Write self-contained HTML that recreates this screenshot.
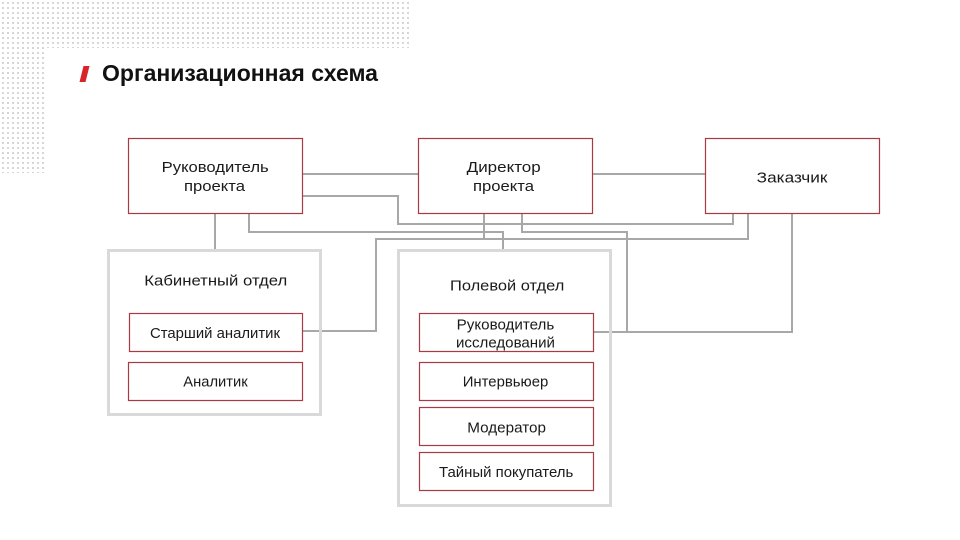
<!DOCTYPE html>
<html><head><meta charset="utf-8"><style>
html,body{margin:0;padding:0;background:#fff;}
svg{display:block;}
text{font-family:"Liberation Sans","Noto Sans CJK SC",sans-serif;fill:#1a1a1a;}
</style></head><body>
<svg width="960" height="540" viewBox="0 0 960 540" xmlns="http://www.w3.org/2000/svg">
<defs>
<pattern id="dots" x="2" y="2" width="5" height="5" patternUnits="userSpaceOnUse">
<rect x="0" y="0" width="2" height="2" fill="#d6d6d6"/>
</pattern>
</defs>
<rect width="960" height="540" fill="#fff"/>
<path d="M0 0 H412 V48 H47 V173 H0 Z" fill="url(#dots)"/>

<!-- title -->
<polygon points="83.5,66 89.5,66 85.5,82 79.5,82" fill="#d9252a"/>
<text x="102" y="81" font-size="23" font-weight="bold" textLength="276" lengthAdjust="spacingAndGlyphs" style="fill:#111">Организационная схема</text>

<!-- connectors -->
<g fill="none" stroke="#a8a8a8" stroke-width="2">
<path d="M302 174 H418"/>
<path d="M592 174 H705"/>
<path d="M302 196 H398 V224 H733 V213"/>
<path d="M249 213 V232 H503 V249"/>
<path d="M215 213 V249"/>
<path d="M748 213 V239 H376 V331 H302"/>
<path d="M484 213 V239"/>
<path d="M522 213 V232 H627 V332"/>
<path d="M792 213 V332 H593"/>
</g>

<!-- containers -->
<rect x="108.5" y="250.5" width="212" height="164" fill="none" stroke="#d9d9d9" stroke-width="3"/>
<rect x="398.5" y="250.5" width="212" height="255" fill="none" stroke="#d9d9d9" stroke-width="3"/>

<!-- boxes -->
<g fill="#fff" stroke="#a93a44" stroke-width="1.2">
<rect x="128.5" y="138.5" width="174" height="75"/>
<rect x="418.5" y="138.5" width="174" height="75"/>
<rect x="705.5" y="138.5" width="174" height="75"/>
<rect x="129.5" y="313.5" width="173" height="38"/>
<rect x="128.5" y="362.5" width="174" height="38"/>
<rect x="419.5" y="313.5" width="174" height="38"/>
<rect x="419.5" y="362.5" width="174" height="38"/>
<rect x="419.5" y="407.5" width="174" height="38"/>
<rect x="419.5" y="452.5" width="174" height="38"/>
</g>

<g font-size="15">
<text x="161.7" y="172" textLength="107" lengthAdjust="spacingAndGlyphs">Руководитель</text>
<text x="184" y="191" textLength="61" lengthAdjust="spacingAndGlyphs">проекта</text>
<text x="466.7" y="172" textLength="74" lengthAdjust="spacingAndGlyphs">Директор</text>
<text x="473" y="191" textLength="61" lengthAdjust="spacingAndGlyphs">проекта</text>
<text x="756.7" y="182.5" textLength="70.7" lengthAdjust="spacingAndGlyphs">Заказчик</text>
<text x="144.3" y="285.5" textLength="143" lengthAdjust="spacingAndGlyphs">Кабинетный отдел</text>
<text x="150" y="338" textLength="130" lengthAdjust="spacingAndGlyphs">Старший аналитик</text>
<text x="183.3" y="386.5" textLength="64.4" lengthAdjust="spacingAndGlyphs">Аналитик</text>
<text x="450" y="290.5" textLength="114.3" lengthAdjust="spacingAndGlyphs">Полевой отдел</text>
<text x="456.7" y="329.5" textLength="97.6" lengthAdjust="spacingAndGlyphs">Руководитель</text>
<text x="456" y="347.5" textLength="99" lengthAdjust="spacingAndGlyphs">исследований</text>
<text x="462.7" y="386.5" textLength="85.6" lengthAdjust="spacingAndGlyphs">Интервьюер</text>
<text x="467.3" y="432.5" textLength="78.7" lengthAdjust="spacingAndGlyphs">Модератор</text>
<text x="439" y="477" textLength="134.3" lengthAdjust="spacingAndGlyphs">Тайный покупатель</text>
</g>
</svg>
</body></html>
